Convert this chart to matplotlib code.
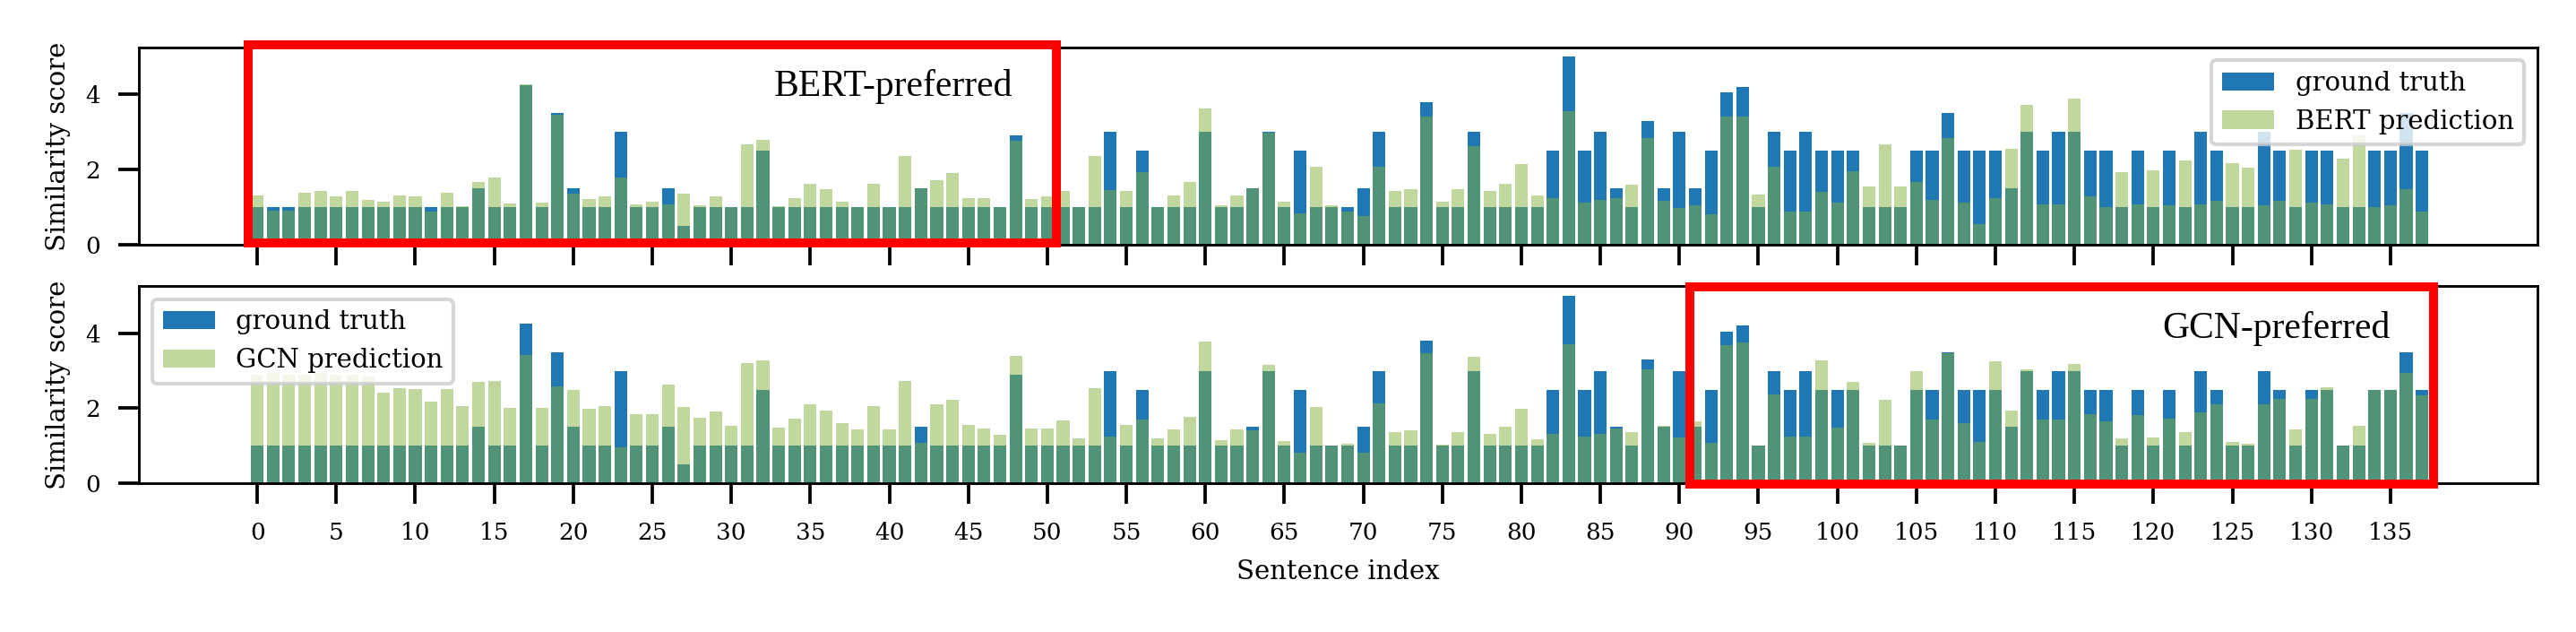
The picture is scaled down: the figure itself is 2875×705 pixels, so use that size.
import numpy as np
import matplotlib
matplotlib.use("Agg")
import matplotlib.pyplot as plt
from matplotlib.patches import Rectangle

# ground truth similarity for each sentence pair (0..137)
ground_truth = [
    1, 1, 1, 1, 1, 1, 1, 1, 1, 1, 1, 1, 1, 1, 1.5, 1, 1, 4.25, 1, 3.5,
    1.5, 1, 1, 3, 1, 1, 1.5, 0.5, 1, 1, 1, 1, 2.5, 1, 1, 1, 1, 1, 1, 1,
    1, 1, 1.5, 1, 1, 1, 1, 1, 2.9, 1, 1, 1, 1, 1, 3, 1, 2.5, 1, 1, 1,
    3, 1, 1, 1.5, 3, 1, 2.5, 1, 1, 1, 1.5, 3, 1, 1, 3.8, 1, 1, 3, 1, 1,
    1, 1, 2.5, 5, 2.5, 3, 1.5, 1, 3.3, 1.5, 3, 1.5, 2.5, 4.05, 4.2, 1, 3, 2.5, 3, 2.5,
    2.5, 2.5, 1, 1, 1, 2.5, 2.5, 3.5, 2.5, 2.5, 2.5, 1.5, 3, 2.5, 3, 3, 2.5, 2.5, 1, 2.5,
    1, 2.5, 1, 3, 2.5, 1, 1, 3, 2.5, 1, 2.5, 2.5, 1, 1, 2.5, 2.5, 3.5, 2.5,
]

bert_pred = [
    1.32, 0.9, 0.9, 1.38, 1.42, 1.28, 1.44, 1.2, 1.14, 1.3, 1.28, 0.88, 1.38, 1.02, 1.68, 1.79, 1.1, 4.28, 1.12, 3.45,
    1.36, 1.22, 1.28, 1.8, 1.08, 1.14, 1.08, 1.36, 1.06, 1.28, 1.0, 2.68, 2.8, 1.02, 1.24, 1.62, 1.48, 1.14, 1.0, 1.62,
    1.0, 2.36, 1.5, 1.72, 1.9, 1.24, 1.24, 1.0, 2.76, 1.22, 1.28, 1.44, 1.0, 2.36, 1.46, 1.42, 1.92, 1.0, 1.3, 1.66,
    3.62, 1.06, 1.32, 1.5, 2.98, 1.14, 0.84, 2.08, 1.06, 0.88, 0.76, 2.08, 1.44, 1.48, 3.4, 1.14, 1.48, 2.62, 1.42, 1.62,
    2.14, 1.32, 1.24, 3.56, 1.12, 1.2, 1.24, 1.6, 2.84, 1.16, 0.98, 1.04, 0.8, 3.4, 3.4, 1.34, 2.08, 0.88, 0.88, 1.4,
    1.12, 1.96, 1.56, 2.68, 1.56, 1.68, 1.2, 2.84, 1.12, 0.56, 1.24, 2.56, 3.72, 1.08, 1.08, 3.88, 1.28, 1.0, 1.94, 1.08,
    1.98, 1.04, 2.24, 1.08, 1.16, 2.16, 2.04, 1.04, 1.16, 2.52, 1.12, 1.08, 2.28, 2.9, 1.0, 1.04, 1.48, 0.88,
]

gcn_pred = [
    2.9, 2.95, 2.9, 2.9, 2.95, 2.9, 2.9, 2.85, 2.42, 2.54, 2.52, 2.19, 2.52, 2.06, 2.7, 2.72, 2.02, 3.43, 2.02, 2.58,
    2.48, 1.98, 2.06, 0.97, 1.84, 1.84, 2.62, 2.04, 1.76, 1.92, 1.53, 3.2, 3.28, 1.49, 1.73, 2.1, 1.95, 1.61, 1.44, 2.06,
    1.44, 2.72, 1.09, 2.1, 2.22, 1.55, 1.47, 1.29, 3.4, 1.47, 1.47, 1.67, 1.19, 2.54, 1.25, 1.56, 1.69, 1.19, 1.44, 1.77,
    3.77, 1.15, 1.44, 1.41, 3.15, 1.13, 0.81, 2.03, 1.0, 1.06, 0.81, 2.14, 1.37, 1.41, 3.47, 1.03, 1.37, 3.36, 1.31, 1.51,
    1.99, 1.17, 1.33, 3.71, 1.25, 1.33, 1.47, 1.37, 3.04, 1.53, 1.23, 1.65, 1.09, 3.67, 3.75, 1.0, 2.38, 1.25, 1.25, 3.28,
    1.49, 2.7, 1.09, 2.22, 1.02, 2.98, 1.69, 3.47, 1.61, 1.1, 3.24, 1.94, 3.04, 1.69, 1.69, 3.19, 1.85, 1.65, 1.19, 1.81,
    1.23, 1.73, 1.37, 1.9, 2.1, 1.11, 1.05, 2.1, 2.26, 1.44, 2.26, 2.55, 1.0, 1.53, 2.5, 2.5, 2.94, 2.34,
]

panels = [
    ("BERT prediction", bert_pred, "upper right", "BERT-preferred", (-0.58, 50.6, 0.05, 5.32), (47.8, 3.96)),
    ("GCN prediction", gcn_pred, "upper left", "GCN-preferred", (90.66, 137.72, -0.02, 5.22), (135.0, 3.88)),
]

plt.rcParams['font.family'] = ['DejaVu Serif']

BLUE = '#1f77b4'
GREEN = '#82b03c'

idx = np.arange(len(ground_truth))

fig, axes = plt.subplots(2, 1, figsize=(2875 / 300, 705 / 300), dpi=300, sharex=True)
fig.subplots_adjust(left=0.054, right=0.985, bottom=0.235, top=0.925, hspace=0.21)

for ax, (name, pred, loc, note, box, note_xy) in zip(axes, panels):
    ax.bar(idx, ground_truth, color=BLUE, label='ground truth')
    ax.bar(idx, pred, color=GREEN, alpha=0.5, label=name)
    ax.set_ylabel('Similarity score', fontsize=7)
    ax.set_yticks([0, 2, 4])
    ax.tick_params(labelsize=6.3, length=5.5, width=0.9, pad=4.8)
    for s in ax.spines.values():
        s.set_linewidth(0.7)
    ax.legend(loc=loc, fontsize=7)

    # highlighted region
    x0, x1, y0, y1 = box
    ax.add_patch(Rectangle((x0, y0), x1 - x0, y1 - y0, fill=False,
                           edgecolor='red', linewidth=2.4, clip_on=False, zorder=10))
    ax.text(note_xy[0], note_xy[1], note, ha='right', va='baseline',
            fontsize=10, family=['Liberation Serif', 'DejaVu Serif'], zorder=11)

axes[1].set_xticks(np.arange(0, len(ground_truth), 5))
axes[1].set_xlabel('Sentence index', fontsize=7)

fig.savefig('out.png', dpi=300)
